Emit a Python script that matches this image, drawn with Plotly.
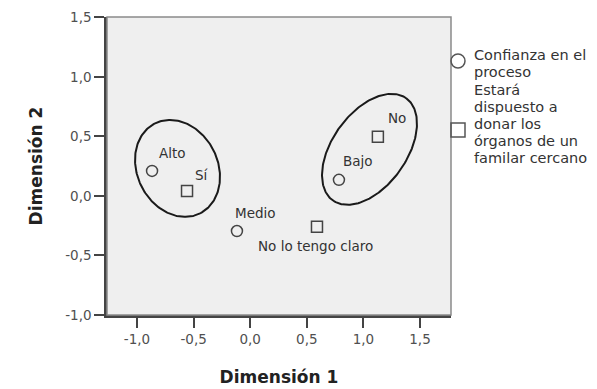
import numpy as np
import plotly.graph_objects as go

# ---------------- data ----------------
conf_labels = ["Alto", "Medio", "Bajo"]
conf_dim1 = [-0.867, -0.117, 0.784]
conf_dim2 = [0.21, -0.295, 0.135]

don_labels = ["Sí", "No lo tengo claro", "No"]
don_dim1 = [-0.558, 0.59, 1.128]
don_dim2 = [0.042, -0.26, 0.497]

series_names = ["Confianza en el proceso",
                "Estará dispuesto a donar los órganos de un familar cercano"]
legend_lines = [["Confianza en el", "proceso"],
                ["Estará", "dispuesto a", "donar los", "órganos de un", "familar cercano"]]

x_ticks = [-1.0, -0.5, 0.0, 0.5, 1.0, 1.5]
y_ticks = [-1.0, -0.5, 0.0, 0.5, 1.0, 1.5]

# cluster ellipses: centre in data units
cluster_cx = [-0.642, 1.054]
cluster_cy = [0.231, 0.391]

# ---------------- layout / style ----------------
W, H = 597, 389
ML, MR, MT, MB = 107, 146, 17, 74
PW, PH = W - ML - MR, H - MT - MB
XR = [-1.265, 1.774]
YR = [-1.0, 1.502]
xs = PW / (XR[1] - XR[0])
ys = PH / (YR[1] - YR[0])

FONT = "DejaVu Sans"
INK = "#333333"

# ellipse shape (pixels, screen angle in degrees, y down)
ell_style = [dict(a=50.3, b=40.3, ang=63.4), dict(a=62.9, b=37.1, ang=-54.3)]

# label offsets in pixels (dx right, dy up)
conf_off = [(20, 18), (19, 18), (19, 19)]
don_off = [(15, 16), (-1, -19), (19, 19)]

fig = go.Figure()

fig.add_trace(go.Scatter(
    x=conf_dim1, y=conf_dim2, mode="markers", name=series_names[0],
    marker=dict(symbol="circle-open", size=11, color="#444444", line=dict(width=1.5)),
    showlegend=False, hoverinfo="text", text=conf_labels))
fig.add_trace(go.Scatter(
    x=don_dim1, y=don_dim2, mode="markers", name=series_names[1],
    marker=dict(symbol="square-open", size=11, color="#444444", line=dict(width=1.5)),
    showlegend=False, hoverinfo="text", text=don_labels))

t = np.linspace(0, 2 * np.pi, 240)
for cx, cy, st in zip(cluster_cx, cluster_cy, ell_style):
    th = np.radians(st["ang"])
    ex = st["a"] * np.cos(t) * np.cos(th) - st["b"] * np.sin(t) * np.sin(th)
    ey = st["a"] * np.cos(t) * np.sin(th) + st["b"] * np.sin(t) * np.cos(th)
    fig.add_trace(go.Scatter(x=cx + ex / xs, y=cy - ey / ys, mode="lines",
                             line=dict(color="#1a1a1a", width=2), showlegend=False,
                             hoverinfo="skip"))

ann = []
for lab, x, y, (dx, dy) in zip(conf_labels, conf_dim1, conf_dim2, conf_off):
    ann.append(dict(x=x, y=y, xref="x", yref="y", text=lab, showarrow=False,
                    xshift=dx, yshift=dy, font=dict(family=FONT, size=13.5, color=INK)))
for lab, x, y, (dx, dy) in zip(don_labels, don_dim1, don_dim2, don_off):
    ann.append(dict(x=x, y=y, xref="x", yref="y", text=lab, showarrow=False,
                    xshift=dx, yshift=dy, font=dict(family=FONT, size=13.5, color=INK)))


def px2paper(px, py):
    return (px - ML) / PW, (MT + PH - py) / PH


# manual legend
leg_first_line = [55, 90]
leg_symbol_y = [61, 130]
for i, lines in enumerate(legend_lines):
    for j, line in enumerate(lines):
        xp, yp = px2paper(472, leg_first_line[i] + 17 * j)
        ann.append(dict(x=xp, y=yp, xref="paper", yref="paper", text=line,
                        showarrow=False, xanchor="left", yanchor="middle",
                        font=dict(family=FONT, size=14.5, color=INK)))

shapes = [dict(type="rect", xref="paper", yref="paper", x0=0, y0=0, x1=1, y1=1,
               line=dict(color="#8a8a8a", width=1.5), layer="above")]
for i, sym in enumerate(["circle", "rect"]):
    cxp, cyp = 458, leg_symbol_y[i]
    r = 7
    x0, y1 = px2paper(cxp - r, cyp - r)
    x1, y0 = px2paper(cxp + r, cyp + r)
    shapes.append(dict(type=sym, xref="paper", yref="paper", x0=x0, x1=x1, y0=y0, y1=y1,
                       line=dict(color="#555555", width=1.5), fillcolor="rgba(0,0,0,0)"))


def fmt(v):
    return f"{v:.1f}".replace(".", ",")


axis_common = dict(showgrid=False, zeroline=False, ticks="outside", ticklen=10,
                   tickwidth=2, tickcolor="#444444", showline=True, linecolor="#444444",
                   linewidth=2.5, tickfont=dict(family=FONT, size=13.5, color="#505050"))

fig.update_layout(
    width=W, height=H, margin=dict(l=ML, r=MR, t=MT, b=MB, autoexpand=False),
    paper_bgcolor="white", plot_bgcolor="#efefef",
    xaxis=dict(range=XR, tickvals=x_ticks, ticktext=[fmt(v) for v in x_ticks],
               title=dict(text="Dimensión 1", standoff=26,
                          font=dict(family=FONT, size=17, color="#222222", weight="bold")),
               **axis_common),
    yaxis=dict(range=YR, tickvals=y_ticks, ticktext=[fmt(v) for v in y_ticks],
               title=dict(text="Dimensión 2", standoff=19,
                          font=dict(family=FONT, size=17, color="#222222", weight="bold")),
               **axis_common),
    annotations=ann, shapes=shapes, showlegend=False,
)

fig.write_html("out.html")
